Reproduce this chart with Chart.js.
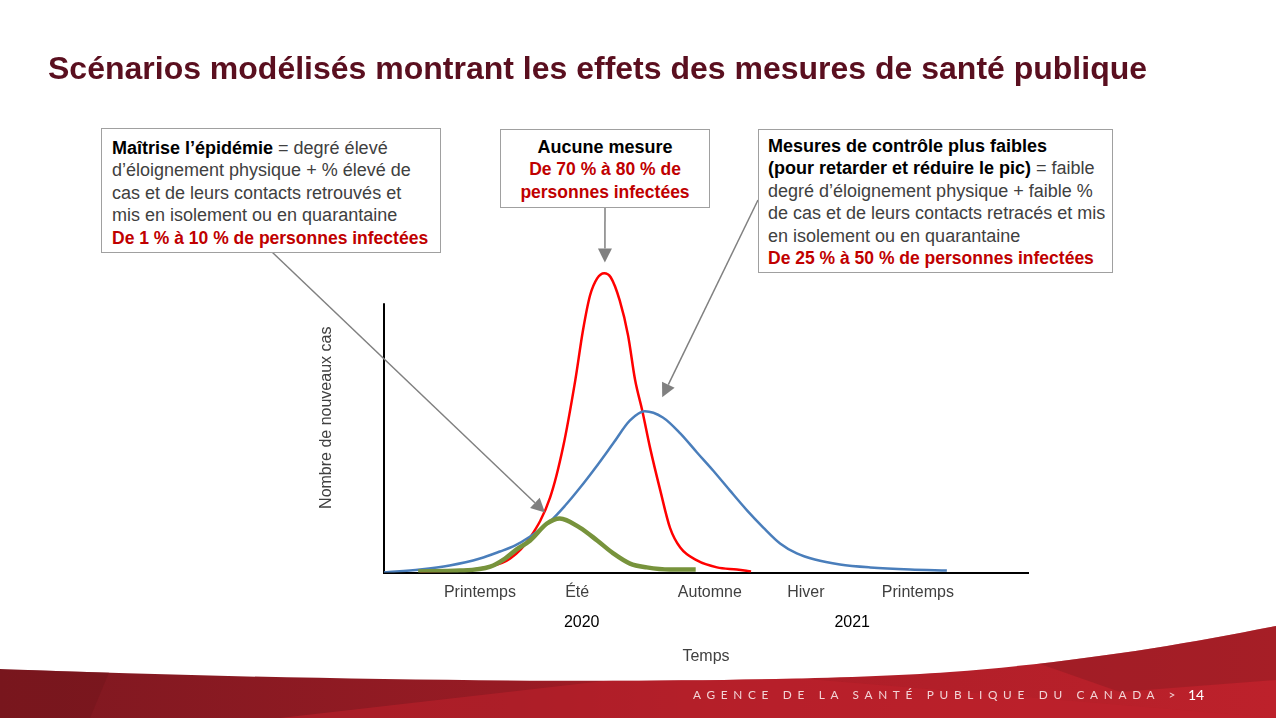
<!DOCTYPE html>
<html lang="fr">
<head>
<meta charset="utf-8">
<script src="https://cdn.jsdelivr.net/npm/chart.js@4.4.0/dist/chart.umd.min.js"></script>
<style>
  body { margin: 0; width: 1276px; height: 718px; overflow: hidden; background: #fff;
         font-family: "Liberation Sans", Arial, sans-serif; position: relative; }
  #band { position: absolute; left: 0; top: 620px; }
  #wrap { position: absolute; left: 0; top: 0; width: 1276px; height: 718px; }
  h1 { position: absolute; left: 48px; top: 48px; margin: 0; font-size: 32px; line-height: 40px;
       font-weight: bold; color: #5a0f1f; white-space: nowrap; }
  .box { position: absolute; border: 1px solid #a0a0a0; background: #fff; box-sizing: border-box;
         font-size: 18px; line-height: 22.4px; color: #404040; white-space: nowrap; }
  .box b { color: #000; }
  .box .red { color: #c00000; font-weight: bold; font-size: 17.5px; }
  #foot { position: absolute; left: 693px; top: 687px; font-family: Lato, "Open Sans", sans-serif;
          font-size: 11.8px; letter-spacing: 5.7px; color: #f2d4d6; white-space: nowrap; }
  #page { position: absolute; left: 1188px; top: 686px; font-family: Lato, sans-serif;
          font-size: 14px; color: #fff; }
</style>
</head>
<body>
<svg id="band" width="1276" height="98">
  <defs>
    <linearGradient id="g" x1="0" x2="1" y1="0" y2="0">
      <stop offset="0" stop-color="#7e1820"/>
      <stop offset="0.4" stop-color="#971b24"/>
      <stop offset="0.6" stop-color="#ad1e28"/>
      <stop offset="1" stop-color="#bd212b"/>
    </linearGradient>
    <clipPath id="c"><path d="M0,49 C350,62 750,66 950,52 C1080,42 1180,25 1276,6 L1276,98 L0,98 Z"/></clipPath>
  </defs>
  <g clip-path="url(#c)">
    <rect width="1276" height="98" fill="url(#g)"/>
    <polygon points="280,98 700,50 1276,98" fill="#c0212b" opacity="0.55"/>
    <polygon points="0,50 110,50 90,98 0,98" fill="#74161d" opacity="0.6"/>
    <polygon points="1000,30 1276,0 1276,60 1120,72" fill="#8a1a22" opacity="0.45"/>
  </g>
</svg>

<div id="wrap"><canvas id="chart"></canvas></div>

<h1>Scénarios modélisés montrant les effets des mesures de santé publique</h1>

<div class="box" style="left:101px;top:128px;width:340px;height:125px;padding:8px 0 0 10px;">
  <b>Maîtrise l’épidémie</b> = degré élevé<br>d’éloignement physique + % élevé de<br>cas et de leurs contacts retrouvés et<br>mis en isolement ou en quarantaine<br><span class="red">De 1 % à 10 % de personnes infectées</span>
</div>
<div class="box" style="left:500px;top:129px;width:210px;height:79px;padding-top:6px;text-align:center;">
  <b>Aucune mesure</b><br><span class="red">De 70 % à 80 % de<br>personnes infectées</span>
</div>
<div class="box" style="left:758px;top:129px;width:355px;height:144px;padding:5px 0 0 9px;">
  <b>Mesures de contrôle plus faibles<br>(pour retarder et réduire le pic)</b> = faible<br>degré d’éloignement physique + faible %<br>de cas et de leurs contacts retracés et mis<br>en isolement ou en quarantaine<br><span class="red">De 25 % à 50 % de personnes infectées</span>
</div>

<div id="foot">AGENCE DE LA SANTÉ PUBLIQUE DU CANADA &gt;</div>
<div id="page">14</div>

<script>
// axis labels
const seasonLabels = ['Printemps', 'Été', 'Automne', 'Hiver', 'Printemps'];
const seasonTicks = [14.9, 30.0, 50.6, 65.5, 82.9];
const yearLabels = ['2020', '2021'];
const yearTicks = [30.7, 72.7];
const axisTop = 100;

// Aucune mesure (red)
const timeRed = [5.6, 11.8, 16.5, 19.6, 22.7, 25.8, 27.8, 29.7, 30.9, 32.0, 33.1, 34.2, 35.2, 36.6, 37.9, 39.0, 40.1, 41.3, 42.9, 44.4, 46.0, 48.6, 51.7, 54.8, 57.0];
const casesRed = [0.4, 0.7, 2.2, 5.2, 13.0, 27.9, 46.5, 71.4, 90.0, 103.0, 109.3, 111.2, 109.7, 101.1, 88.1, 71.4, 60.2, 46.5, 30.5, 16.7, 9.3, 4.5, 1.9, 1.1, 0.4];

// Mesures de contrôle plus faibles (blue)
const timeBlue = [0, 5.6, 10.2, 14.9, 18.0, 20.3, 22.7, 25.8, 28.1, 30.4, 33.1, 35.6, 38.2, 40.5, 43.3, 46.0, 48.6, 51.1, 53.7, 56.4, 58.9, 61.5, 64.1, 66.9, 70.8, 75.5, 81.7, 87.4];
const casesBlue = [0, 1.1, 2.6, 5.2, 7.8, 10.0, 13.4, 19.0, 24.8, 31.4, 39.8, 48.0, 56.5, 59.9, 57.6, 51.7, 44.6, 37.9, 30.5, 23.0, 16.7, 10.8, 7.1, 4.8, 3.0, 1.9, 1.1, 0.7];

// Maîtrise l'épidémie (green)
const timeGreen = [5.3, 11.8, 16.5, 18.8, 20.6, 22.7, 25.3, 27.3, 30.4, 33.1, 35.6, 38.2, 40.8, 44.4, 48.4];
const casesGreen = [0.4, 0.7, 2.2, 5.2, 8.6, 11.9, 18.2, 20.1, 16.7, 11.9, 7.1, 3.3, 1.9, 1.1, 1.1];

// callout arrows: start on the boxes (page px), tip on the curves (data units)
const arrowStarts = [[272, 252], [605, 208], [758, 200]];
const arrowTips = [[25.0, 22.3], [34.3, 115.2], [43.2, 65.1]];

const pts = (xs, ys) => xs.map((x, i) => ({ x: x, y: ys[i] }));

Chart.defaults.font.family = '"Liberation Sans", Arial, sans-serif';
Chart.defaults.font.size = 16;

const decor = {
  id: 'decor',
  beforeDatasetsDraw(chart) {
    const { ctx, scales: { y }, chartArea } = chart;
    ctx.save();
    ctx.strokeStyle = '#000';
    ctx.lineWidth = 2;
    ctx.beginPath();
    ctx.moveTo(chartArea.left, y.getPixelForValue(0) + 1);
    ctx.lineTo(chartArea.left, y.getPixelForValue(axisTop));
    ctx.stroke();
    ctx.restore();
  },
  afterDatasetsDraw(chart) {
    const { ctx, scales: { x, y } } = chart;
    ctx.save();
    ctx.strokeStyle = '#808080';
    ctx.fillStyle = '#808080';
    ctx.lineWidth = 1.5;
    arrowStarts.forEach((s, i) => {
      const tx = x.getPixelForValue(arrowTips[i][0]);
      const ty = y.getPixelForValue(arrowTips[i][1]);
      const a = Math.atan2(ty - s[1], tx - s[0]);
      const len = 14, w = 7;
      const bx = tx - len * Math.cos(a), by = ty - len * Math.sin(a);
      ctx.beginPath();
      ctx.moveTo(s[0], s[1]);
      ctx.lineTo(bx, by);
      ctx.stroke();
      ctx.beginPath();
      ctx.moveTo(tx, ty);
      ctx.lineTo(bx + w * Math.sin(a), by - w * Math.cos(a));
      ctx.lineTo(bx - w * Math.sin(a), by + w * Math.cos(a));
      ctx.closePath();
      ctx.fill();
    });
    ctx.restore();
  }
};

new Chart(document.getElementById('chart'), {
  type: 'line',
  data: {
    datasets: [
      { label: 'Maîtrise l’épidémie', data: pts(timeGreen, casesGreen), borderColor: '#77933c', borderWidth: 4.5, order: 1 },
      { label: 'Mesures de contrôle plus faibles', data: pts(timeBlue, casesBlue), borderColor: '#4a7ebb', borderWidth: 2.5, order: 2 },
      { label: 'Aucune mesure', data: pts(timeRed, casesRed), borderColor: '#ff0000', borderWidth: 2.5, order: 3 }
    ]
  },
  options: {
    responsive: true,
    maintainAspectRatio: false,
    animation: false,
    events: [],
    layout: { padding: { left: 313, right: 248, top: 263, bottom: 52 } },
    elements: {
      point: { radius: 0 },
      line: { cubicInterpolationMode: 'monotone', fill: false }
    },
    plugins: { legend: { display: false }, tooltip: { enabled: false } },
    scales: {
      x: {
        type: 'linear', position: 'bottom', min: 0, max: 100,
        border: { color: '#000', width: 2 },
        grid: { display: false, drawTicks: false },
        afterBuildTicks: (s) => { s.ticks = seasonTicks.map(v => ({ value: v })); },
        afterFit: (s) => { s.height = 29; },
        ticks: { padding: 10, color: '#404040', autoSkip: false, maxRotation: 0,
                 callback: (v, i) => seasonLabels[i] }
      },
      x2: {
        type: 'linear', position: 'bottom', min: 0, max: 100,
        border: { display: false },
        grid: { display: false, drawTicks: false },
        afterBuildTicks: (s) => { s.ticks = yearTicks.map(v => ({ value: v })); },
        afterFit: (s) => { s.height = 64.5; },
        ticks: { padding: 11, color: '#000', autoSkip: false, maxRotation: 0,
                 callback: (v, i) => yearLabels[i] },
        title: { display: true, text: 'Temps', color: '#404040', padding: { top: 15, bottom: 0 } }
      },
      y: {
        min: 0, max: 115,
        border: { display: false },
        grid: { display: false, drawTicks: false },
        ticks: { display: false },
        afterFit: (s) => { s.width = 71; },
        title: { display: true, text: 'Nombre de nouveaux cas', color: '#404040', padding: { top: 4, bottom: 0 } }
      }
    }
  },
  plugins: [decor]
});
</script>
</body>
</html>
